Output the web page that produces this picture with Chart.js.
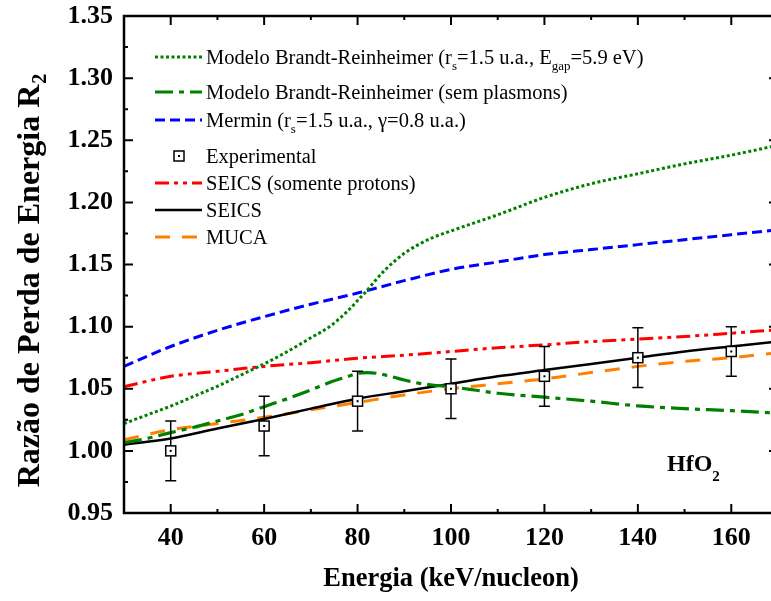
<!DOCTYPE html>
<html>
<head>
<meta charset="utf-8">
<script src="https://cdn.jsdelivr.net/npm/chart.js@4.4.0/dist/chart.umd.min.js"></script>
<style>
  html, body { margin: 0; padding: 0; background: #fff; overflow: hidden; }
  #wrap { width: 780px; height: 601px; }
</style>
</head>
<body>
<div id="wrap"><canvas id="c" width="780" height="601"></canvas></div>
<script>
// energies (keV/nucleon)
const energyBR = [30, 35, 40, 45, 50, 55, 60, 65, 70, 74, 78, 80, 82, 84, 86, 88, 90, 93, 96, 100, 105, 110, 120, 130, 140, 150, 160, 170];
const energyCoarse = [30, 40, 50, 60, 70, 80, 90, 100, 110, 120, 130, 140, 150, 160, 170];
const energyExp = [40, 60, 80, 100, 120, 140, 160];

// R2 curves
const brPlasmons = [1.022, 1.029, 1.036, 1.044, 1.052, 1.061, 1.070, 1.080, 1.091, 1.100, 1.113, 1.121, 1.129, 1.138, 1.146, 1.153, 1.159, 1.166, 1.1715, 1.177, 1.1835, 1.190, 1.204, 1.215, 1.223, 1.231, 1.238, 1.246];
const brNoPlasmons = [1.0066, 1.010, 1.0147, 1.019, 1.024, 1.029, 1.0356, 1.042, 1.049, 1.055, 1.060, 1.0625, 1.063, 1.0625, 1.061, 1.059, 1.057, 1.0545, 1.053, 1.0515, 1.049, 1.0464, 1.0432, 1.040, 1.0362, 1.034, 1.0324, 1.0303];
const mermin = [1.068, 1.084, 1.097, 1.108, 1.118, 1.127, 1.137, 1.146, 1.152, 1.158, 1.162, 1.166, 1.170, 1.174, 1.178];
const seicsProtons = [1.0517, 1.060, 1.064, 1.068, 1.071, 1.0746, 1.077, 1.080, 1.083, 1.0853, 1.088, 1.090, 1.092, 1.0947, 1.0975];
const seics = [1.005, 1.010, 1.018, 1.0257, 1.034, 1.042, 1.048, 1.054, 1.060, 1.065, 1.070, 1.075, 1.080, 1.084, 1.088];
const muca = [1.009, 1.017, 1.022, 1.027, 1.033, 1.039, 1.045, 1.050, 1.054, 1.058, 1.063, 1.068, 1.072, 1.075, 1.079];
const expValues = [1.000, 1.020, 1.040, 1.050, 1.060, 1.075, 1.080];
const expErrors = [0.024, 0.024, 0.024, 0.024, 0.024, 0.024, 0.020];

const xTickValues = [40, 60, 80, 100, 120, 140, 160];
const yTickValues = [0.95, 1.00, 1.05, 1.10, 1.15, 1.20, 1.25, 1.30, 1.35];

const serif = "'Liberation Serif', 'Times New Roman', serif";

const toPoints = (xs, ys) => xs.map((x, i) => ({ x: x, y: ys[i] }));

// legend rows, text pieces with subscripts
const legendRows = [
  { ds: 0, y: 57, text: [['Modelo Brandt-Reinheimer (r'], ['s', 1], ['=1.5 u.a., E'], ['gap', 1], ['=5.9 eV)']] },
  { ds: 1, y: 92, text: [['Modelo Brandt-Reinheimer (sem plasmons)']] },
  { ds: 2, y: 120, text: [['Mermin (r'], ['s', 1], ['=1.5 u.a., \u03b3=0.8 u.a.)']] },
  { ds: 6, y: 156, text: [['Experimental']] },
  { ds: 3, y: 183, text: [['SEICS (somente protons)']] },
  { ds: 4, y: 210, text: [['SEICS']] },
  { ds: 5, y: 237, text: [['MUCA']] }
];

function drawSquare(ctx, x, y) {
  ctx.save();
  ctx.fillStyle = '#fff';
  ctx.strokeStyle = '#000';
  ctx.lineWidth = 1.5;
  ctx.fillRect(x - 5, y - 5, 10, 10);
  ctx.strokeRect(x - 5, y - 5, 10, 10);
  ctx.fillStyle = '#000';
  ctx.fillRect(x - 1, y - 1, 2, 2);
  ctx.restore();
}

const errorBars = {
  id: 'errorBars',
  beforeDatasetDraw(chart, args) {
    if (args.index !== 6) return;
    const ctx = chart.ctx, xs = chart.scales.x, ys = chart.scales.y;
    ctx.save();
    ctx.strokeStyle = '#000';
    ctx.lineWidth = 1.5;
    energyExp.forEach((e, i) => {
      const px = xs.getPixelForValue(e);
      const top = ys.getPixelForValue(expValues[i] + expErrors[i]);
      const bot = ys.getPixelForValue(expValues[i] - expErrors[i]);
      ctx.beginPath();
      ctx.moveTo(px, top); ctx.lineTo(px, bot);
      ctx.moveTo(px - 5.5, top); ctx.lineTo(px + 5.5, top);
      ctx.moveTo(px - 5.5, bot); ctx.lineTo(px + 5.5, bot);
      ctx.stroke();
    });
    ctx.restore();
  },
  afterDatasetDraw(chart, args) {
    if (args.index !== 6) return;
    const xs = chart.scales.x, ys = chart.scales.y;
    energyExp.forEach((e, i) => {
      drawSquare(chart.ctx, xs.getPixelForValue(e), ys.getPixelForValue(expValues[i]));
    });
  }
};

const frame = {
  id: 'frame',
  afterDraw(chart) {
    const ctx = chart.ctx, a = chart.chartArea;
    const xs = chart.scales.x, ys = chart.scales.y;
    ctx.save();
    ctx.strokeStyle = '#000';
    ctx.lineWidth = 2.5;
    ctx.strokeRect(a.left, a.top, a.right - a.left, a.bottom - a.top);

    // inward ticks on all four sides
    ctx.beginPath();
    for (let v = 30; v <= 170; v += 10) {
      const px = xs.getPixelForValue(v);
      const len = xTickValues.includes(v) ? 9 : 4;
      ctx.moveTo(px, a.bottom); ctx.lineTo(px, a.bottom - len);
      ctx.moveTo(px, a.top); ctx.lineTo(px, a.top + len);
    }
    for (let k = 0; k <= 16; k++) {
      const v = 0.95 + k * 0.025;
      const py = ys.getPixelForValue(v);
      const len = k % 2 === 0 ? 9 : 4;
      ctx.moveTo(a.left, py); ctx.lineTo(a.left + len, py);
      ctx.moveTo(a.right, py); ctx.lineTo(a.right - len, py);
    }
    ctx.lineWidth = 2;
    ctx.stroke();

    // y axis title with subscript
    ctx.save();
    ctx.translate(39, 281);
    ctx.rotate(-Math.PI / 2);
    ctx.fillStyle = '#000';
    ctx.font = 'bold 32px ' + serif;
    const main = 'Razão de Perda de Energia R';
    ctx.font = 'bold 32px ' + serif;
    const mw = ctx.measureText(main).width;
    ctx.font = 'bold 20px ' + serif;
    const sw = ctx.measureText('2').width;
    const x0 = -(mw + sw) / 2;
    ctx.font = 'bold 32px ' + serif;
    ctx.fillText(main, x0, 0);
    ctx.font = 'bold 20px ' + serif;
    ctx.fillText('2', x0 + mw + 1, 7);
    ctx.restore();

    // legend
    ctx.textBaseline = 'alphabetic';
    legendRows.forEach(row => {
      const ds = chart.data.datasets[row.ds];
      if (row.ds === 6) {
        drawSquare(ctx, 179, row.y);
      } else {
        ctx.save();
        ctx.strokeStyle = ds.borderColor;
        ctx.lineWidth = ds.borderWidth;
        ctx.setLineDash(ds.borderDash || []);
        ctx.beginPath();
        ctx.moveTo(155, row.y); ctx.lineTo(202, row.y);
        ctx.stroke();
        ctx.restore();
      }
      let x = 206;
      ctx.fillStyle = '#000';
      row.text.forEach(([t, sub]) => {
        ctx.font = sub ? '13px ' + serif : '20.5px ' + serif;
        ctx.fillText(t, x, row.y + (sub ? 13 : 7));
        x += ctx.measureText(t).width;
      });
    });

    // material label
    ctx.font = 'bold 24px ' + serif;
    ctx.fillText('HfO', 667, 471);
    const w = ctx.measureText('HfO').width;
    ctx.font = 'bold 15px ' + serif;
    ctx.fillText('2', 667 + w, 481);
    ctx.restore();
  }
};

new Chart(document.getElementById('c'), {
  type: 'line',
  data: {
    datasets: [
      { label: 'Modelo Brandt-Reinheimer', data: toPoints(energyBR, brPlasmons), borderColor: '#008000', borderWidth: 3, borderDash: [3, 2.5], order: 1 },
      { label: 'Modelo Brandt-Reinheimer (sem plasmons)', data: toPoints(energyBR, brNoPlasmons), borderColor: '#008000', borderWidth: 3.2, borderDash: [18, 6, 5, 6], order: 1 },
      { label: 'Mermin', data: toPoints(energyCoarse, mermin), borderColor: '#0000ff', borderWidth: 3, borderDash: [10, 5], order: 1 },
      { label: 'SEICS (somente protons)', data: toPoints(energyCoarse, seicsProtons), borderColor: '#ff0000', borderWidth: 3, borderDash: [14, 5, 4, 5, 4, 5], order: 1 },
      { label: 'SEICS', data: toPoints(energyCoarse, seics), borderColor: '#000000', borderWidth: 2.5, order: 1 },
      { label: 'MUCA', data: toPoints(energyCoarse, muca), borderColor: '#ff8000', borderWidth: 3, borderDash: [15, 12], order: 1 },
      { label: 'Experimental', data: toPoints(energyExp, expValues), showLine: false, pointRadius: 0, borderColor: '#000', order: 0 }
    ]
  },
  options: {
    responsive: false,
    animation: false,
    layout: { padding: { top: 16, right: 2, left: 0, bottom: 0 } },
    elements: {
      line: { cubicInterpolationMode: 'monotone', fill: false, borderCapStyle: 'butt' },
      point: { radius: 0, hoverRadius: 0 }
    },
    plugins: { legend: { display: false }, tooltip: { enabled: false } },
    scales: {
      x: {
        type: 'linear', min: 30, max: 170,
        afterBuildTicks: s => { s.ticks = xTickValues.map(v => ({ value: v })); },
        afterFit: s => { s.height = 88; s.paddingLeft = 0; s.paddingRight = 0; },
        grid: { display: false, drawTicks: false },
        border: { display: false },
        ticks: { color: '#000', padding: 10, maxRotation: 0, font: { family: serif, size: 26, weight: 'bold' } },
        title: { display: true, text: 'Energia (keV/nucleon)', color: '#000', padding: { top: 0, bottom: 6 }, font: { family: serif, size: 26.5, weight: 'bold' } }
      },
      y: {
        min: 0.95, max: 1.35,
        afterBuildTicks: s => { s.ticks = yTickValues.map(v => ({ value: v })); },
        afterFit: s => { s.width = 124; s.paddingTop = 0; s.paddingBottom = 0; },
        grid: { display: false, drawTicks: false },
        border: { display: false },
        ticks: { color: '#000', padding: 11, font: { family: serif, size: 26, weight: 'bold' }, callback: v => v.toFixed(2) },
        title: { display: false }
      }
    }
  },
  plugins: [errorBars, frame]
});
</script>
</body>
</html>
